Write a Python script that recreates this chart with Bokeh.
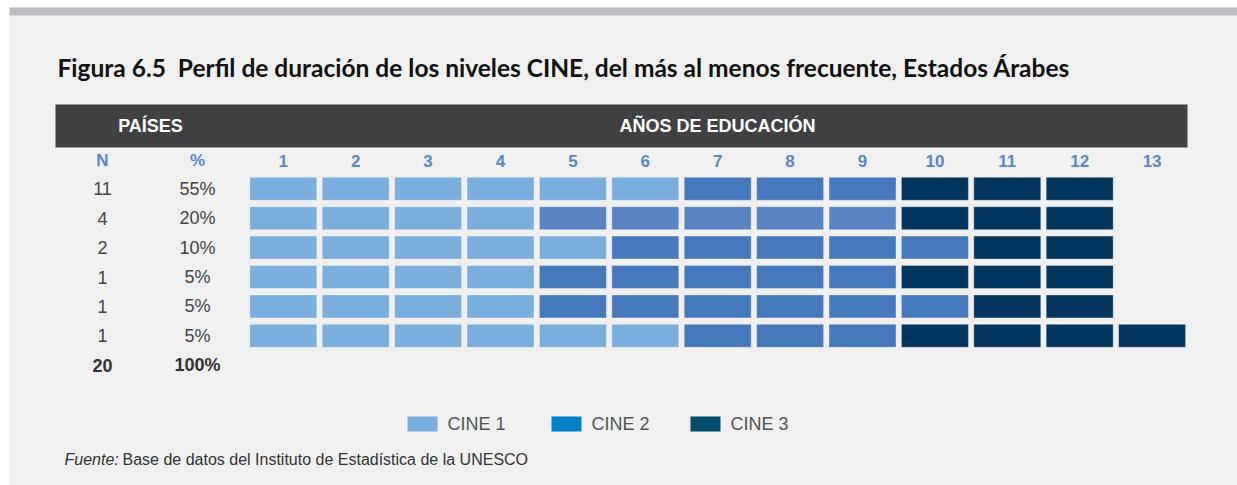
from bokeh.plotting import figure
from bokeh.models import Range1d, Label, BoxAnnotation, ColumnDataSource
from bokeh.embed import file_html
from bokeh.resources import INLINE
from bokeh.core.properties import value

# ---------------- data ----------------
years = list(range(1, 14))
n_countries = [11, 4, 2, 1, 1, 1]
pct_labels = ["55%", "20%", "10%", "5%", "5%", "5%"]
total_n = 20
total_pct = "100%"
cine1_years = [6, 4, 5, 4, 4, 6]
cine2_years = [3, 5, 5, 5, 6, 3]
cine3_years = [3, 3, 2, 3, 2, 4]
legend_labels = ["CINE 1", "CINE 2", "CINE 3"]

# ---------------- styles ----------------
C1 = "#7aaedd"
C2 = ["#4678bc", "#5884c4", "#4678bc", "#4678bc", "#4678bc", "#4678bc"]
C3 = "#02365f"
LEG_COLORS = ["#7aaedd", "#0080c6", "#004a6e"]
BLUE_HDR = "#5b87c5"
TXT = "#444444"
FONT = "Liberation Sans"

W, H = 1237, 485
PX_X, PX_Y = 72.4, 29.4
COL1_X, ROW1_Y = 282.8, 188.3
x0 = 1 - COL1_X / PX_X
x1 = x0 + W / PX_X
ytop = 0 - ROW1_Y / PX_Y
ybot = ytop + H / PX_Y


def sy(py):
    return H - py


def dx(px):
    return x0 + px / PX_X


def box(l, r, t, b, color, level="underlay"):
    return BoxAnnotation(left=l, right=r, top=sy(t), bottom=sy(b),
                         left_units="screen", right_units="screen",
                         top_units="screen", bottom_units="screen",
                         fill_color=color, fill_alpha=1, line_color=None, level=level)


p = figure(width=W, height=H, x_range=Range1d(x0, x1), y_range=Range1d(ybot, ytop),
           output_backend="svg", toolbar_location=None, min_border=0,
           x_axis_type=None, y_axis_type=None)
p.grid.visible = False
p.outline_line_color = None
p.background_fill_color = "white"
p.border_fill_color = "white"

# panel, top gray band, header bar
p.add_layout(box(9, W, 7, H, "#f0f0f0"))
p.add_layout(box(9, W, 7, 15, "#bcbdc0"))
p.add_layout(box(55, 1187, 104, 147, "#414042"))

# title
p.add_layout(Label(x=57, y=sy(67), x_units="screen", y_units="screen",
                   text="Figura 6.5\u00a0\u00a0Perfil de duración de los niveles CINE, del más al menos frecuente, Estados Árabes",
                   text_font="Lato", text_font_style="bold", text_font_size="24.5px",
                   text_color="#111111", text_baseline="alphabetic", text_align="left"))

# header texts
p.add_layout(Label(x=150, y=sy(125.5), x_units="screen", y_units="screen", text="PAÍSES",
                   text_font=FONT, text_font_style="bold", text_font_size="18px",
                   text_color="white", text_baseline="middle", text_align="center"))
p.add_layout(Label(x=717, y=sy(125.5), x_units="screen", y_units="screen", text="AÑOS DE EDUCACIÓN",
                   text_font=FONT, text_font_style="bold", text_font_size="18px",
                   text_color="white", text_baseline="middle", text_align="center"))

# column headers
nx, px_ = dx(102), dx(197)
hdr_text = ["N", "%"] + [str(y) for y in years]
hdr_x = [nx, px_] + years
p.text(x=hdr_x, y=[-0.96] * len(hdr_x), text=hdr_text, text_font=value(FONT),
       text_font_style="bold", text_font_size="17px", text_color=BLUE_HDR,
       text_align="center", text_baseline="middle")

# cells
xs, ys, cols = [], [], []
for r in range(len(n_countries)):
    c1, c2, c3 = cine1_years[r], cine2_years[r], cine3_years[r]
    for y in range(1, c1 + c2 + c3 + 1):
        xs.append(y)
        ys.append(r)
        if y <= c1:
            cols.append(C1)
        elif y <= c1 + c2:
            cols.append(C2[r])
        else:
            cols.append(C3)
src = ColumnDataSource(dict(x=xs, y=ys, color=cols))
p.rect(x="x", y="y", width=67, height=23, width_units="screen", height_units="screen",
       fill_color="color", line_color="white", line_alpha=0.35, line_width=1, source=src)

# row labels
rows = list(range(len(n_countries)))
p.text(x=[nx] * len(rows), y=rows, text=[str(n) for n in n_countries], text_font=value(FONT),
       text_font_size="18px", text_color=TXT, text_align="center", text_baseline="middle")
p.text(x=[px_] * len(rows), y=rows, text=pct_labels, text_font=value(FONT),
       text_font_size="18px", text_color=TXT, text_align="center", text_baseline="middle")
p.text(x=[nx, px_], y=[len(rows), len(rows)], text=[str(total_n), total_pct], text_font=value(FONT),
       text_font_style="bold", text_font_size="18px", text_color="#333333",
       text_align="center", text_baseline="middle")

# legend
leg_x = [407, 551, 690]
for lx, lab, col in zip(leg_x, legend_labels, LEG_COLORS):
    p.add_layout(box(lx, lx + 30, 416, 431, col, level="annotation"))
    p.add_layout(Label(x=lx + 40, y=sy(423), x_units="screen", y_units="screen", text=lab,
                       text_font=FONT, text_font_size="18px", text_color="#555555",
                       text_baseline="middle", text_align="left"))

# source
p.add_layout(Label(x=64, y=sy(459), x_units="screen", y_units="screen", text="Fuente:",
                   text_font=FONT, text_font_style="italic", text_font_size="16px",
                   text_color="#333333", text_baseline="middle", text_align="left"))
p.add_layout(Label(x=122, y=sy(459), x_units="screen", y_units="screen",
                   text="Base de datos del Instituto de Estadística de la UNESCO",
                   text_font=FONT, text_font_size="16px",
                   text_color="#333333", text_baseline="middle", text_align="left"))

open("out.html", "w").write(file_html(p, INLINE))
